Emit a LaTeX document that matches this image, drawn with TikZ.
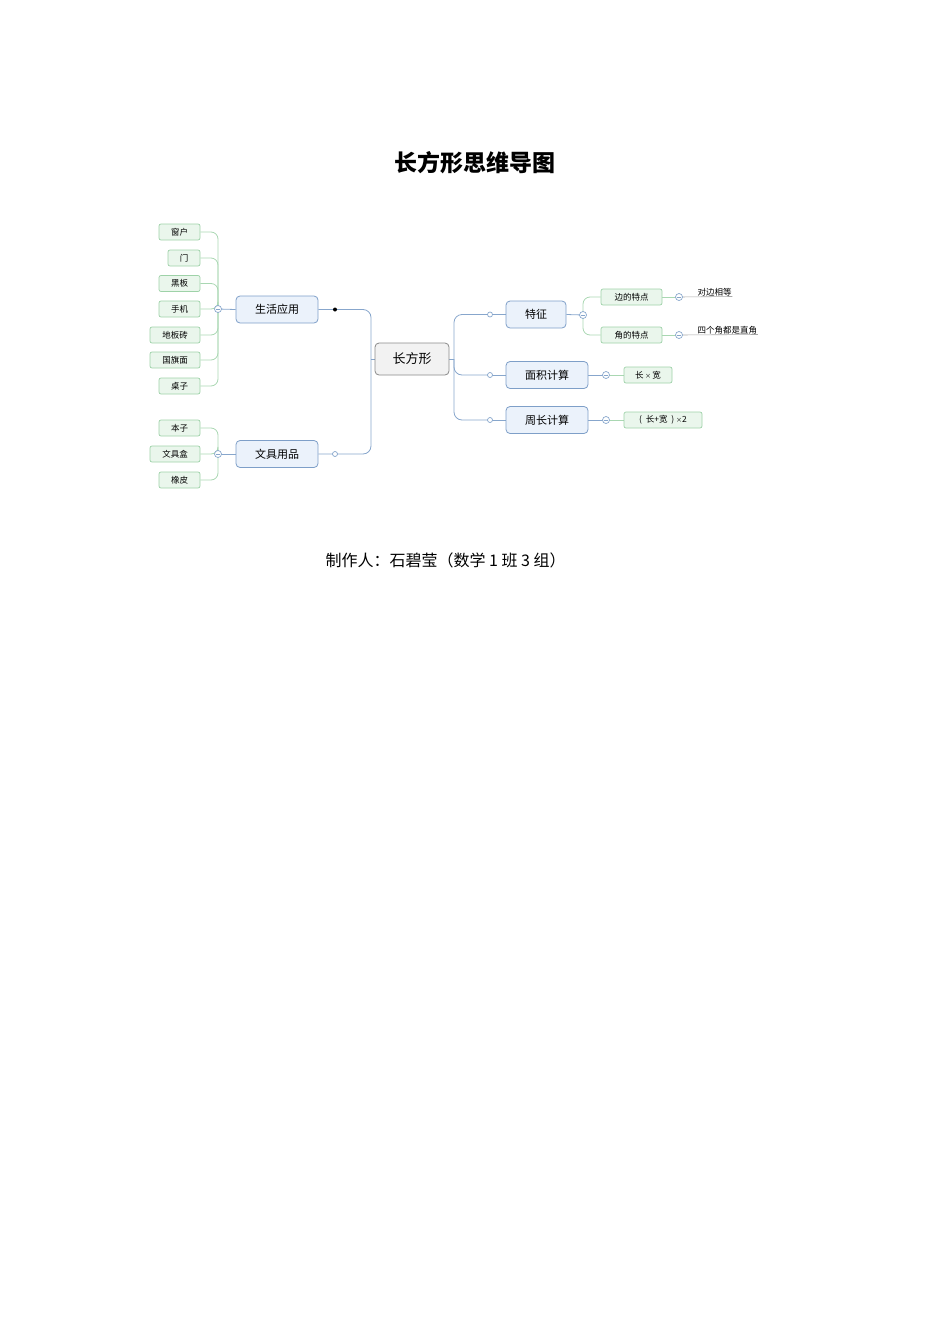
\documentclass[tikz,border=0pt]{standalone}
\usepackage{fontspec}
\setmainfont{Noto Sans CJK SC}
\usetikzlibrary{backgrounds}
\definecolor{bluebd}{HTML}{7E9FC8}
\definecolor{bluefill}{HTML}{EBF2FB}
\definecolor{blueline}{HTML}{87A6CC}
\definecolor{greenbd}{HTML}{9ED2A8}
\definecolor{greenfill}{HTML}{EAF6EC}
\definecolor{greenline}{HTML}{A9D7B2}
\definecolor{graybd}{HTML}{8A8A8A}
\definecolor{grayfill}{HTML}{F2F2F2}
\newcommand{\fsz}[1]{\fontsize{#1}{#1}\selectfont}
\tikzset{
  centralbox/.style={draw=graybd, fill=grayfill, rounded corners=4pt, line width=0.8pt,
    minimum width=74pt, minimum height=32pt, inner sep=0pt, font=\fsz{13}},
  mainbox/.style={draw=bluebd, fill=bluefill, rounded corners=4pt, line width=0.8pt,
    minimum height=27pt, inner sep=0pt, font=\fsz{11}},
  leafbox/.style={draw=greenbd, fill=greenfill, rounded corners=2pt, line width=0.7pt,
    minimum height=16pt, inner sep=0pt, font=\fsz{8.5}},
  plainleaf/.style={inner sep=0.5pt, font=\fsz{8.5}},
  bline/.style={draw=blueline, line width=0.8pt, rounded corners=8pt},
  gline/.style={draw=greenline, line width=0.8pt, rounded corners=7pt},
  knobblue/.style={circle, draw=blueline, fill=white, line width=0.7pt, minimum size=7pt, inner sep=0pt,
    path picture={\draw[blueline, line width=0.7pt] ([xshift=-2pt]path picture bounding box.center) -- ([xshift=2pt]path picture bounding box.center);}},
  hollow/.style={circle, draw=blueline, fill=white, line width=0.7pt, minimum size=5pt, inner sep=0pt},
  blackdot/.style={circle, fill=black, minimum size=4pt, inner sep=0pt},
}
\begin{document}
\begin{tikzpicture}[x=1pt, y=-1pt]
\useasboundingbox (0,0) rectangle (950,1344);

% title
\node[font=\fsz{23}\bfseries] (title) at (475,163) {长方形思维导图};

% central
\node[centralbox] (c) at (412,359) {长方形};

% main branches left
\node[mainbox, minimum width=82pt] (sh) at (277,309.5) {生活应用};
\node[mainbox, minimum width=82pt] (wj) at (277,454) {文具用品};

% main branches right
\node[mainbox, minimum width=60pt] (tz) at (536,314.5) {特征};
\node[mainbox, minimum width=82pt] (mj) at (547,375) {面积计算};
\node[mainbox, minimum width=82pt] (zc) at (547,420) {周长计算};

% left leaves
\node[leafbox, minimum width=41pt] (l1) at (179.5,232) {窗户};
\node[leafbox, minimum width=32pt] (l2) at (184,258) {门};
\node[leafbox, minimum width=41pt] (l3) at (179.5,283.5) {黑板};
\node[leafbox, minimum width=41pt] (l4) at (179.5,309) {手机};
\node[leafbox, minimum width=50pt] (l5) at (175,335) {地板砖};
\node[leafbox, minimum width=50pt] (l6) at (175,360) {国旗面};
\node[leafbox, minimum width=41pt] (l7) at (179.5,386) {桌子};

\node[leafbox, minimum width=41pt] (m1) at (179.5,428) {本子};
\node[leafbox, minimum width=50pt] (m2) at (175,454) {文具盒};
\node[leafbox, minimum width=41pt] (m3) at (179.5,480) {橡皮};

% right leaves
\node[leafbox, minimum width=61pt] (b1) at (631.5,297) {边的特点};
\node[leafbox, minimum width=61pt] (b2) at (631.5,335) {角的特点};
\node[leafbox, minimum width=48pt] (r1) at (648,375) {长\,{\fsz{6}×}\,宽};
\node[leafbox, minimum width=78pt] (r2) at (663,420) {(\ \ 长+宽\ \ )\ {\fsz{6}×}2};

\node[plainleaf, anchor=south west] (t1) at (697,296.5) {对边相等};
\node[plainleaf, anchor=south west] (t2) at (697,334.5) {四个角都是直角};

% knobs
\node[knobblue] (k1) at (218,309) {};
\node[knobblue] (k2) at (218,454) {};
\node[knobblue] (k3) at (583,315) {};
\node[knobblue] (k4) at (679,297) {};
\node[knobblue] (k5) at (679,335) {};
\node[knobblue] (k6) at (606,375) {};
\node[knobblue] (k7) at (606,420) {};

\node[blackdot] (d1) at (335,309.5) {};
\node[hollow] (d2) at (335,454) {};
\node[hollow] (h1) at (490,314.5) {};
\node[hollow] (h2) at (490,375) {};
\node[hollow] (h3) at (490,420) {};

\coordinate (jL) at (371,359);
\coordinate (jR) at (454,359);

% footer
\node[font=\fsz{16}, anchor=west] (foot) at (322,560) {制作人：石碧莹（数学 1 班 3 组）};

\begin{scope}[on background layer]
  % central to left
  \draw[bline] (sh.east) -- (d1.center) -| (jL);
  \draw[bline] (wj.east) -- (d2.center) -| (jL);
  \draw[bline] (jL) -- (c.west);
  % central to right
  \draw[bline] (c.east) -- (jR);
  \draw[bline] (jR) |- (h1.center);
  \draw[bline] (jR) |- (h2.center);
  \draw[bline] (jR) |- (h3.center);
  \draw[bline] (h1.center) -- (tz.west);
  \draw[bline] (h2.center) -- (mj.west);
  \draw[bline] (h3.center) -- (zc.west);
  % left knobs to main
  \draw[bline] (k1.center) -- (sh.west);
  \draw[bline] (k2.center) -- (wj.west);
  % left leaves
  \foreach \l in {l1,l2,l3,l4,l5,l6,l7} \draw[gline] (\l.east) -| (k1.center);
  \foreach \l in {m1,m2,m3} \draw[gline] (\l.east) -| (k2.center);
  % right side
  \draw[bline] (tz.east) -- (k3.center);
  \draw[gline] (k3.center) |- (b1.west);
  \draw[gline] (k3.center) |- (b2.west);
  \draw[gline] (b1.east) -- (k4.center);
  \draw[gline] (b2.east) -- (k5.center);
  \draw[draw=gray!70, line width=0.6pt] (k4.center) -- (t1.south east);
  \draw[draw=gray!70, line width=0.6pt] (k5.center) -- (t2.south east);
  \draw[bline] (mj.east) -- (k6.center);
  \draw[bline] (zc.east) -- (k7.center);
  \draw[gline] (k6.center) -- (r1.west);
  \draw[gline] (k7.center) -- (r2.west);
\end{scope}
\end{tikzpicture}
\end{document}
